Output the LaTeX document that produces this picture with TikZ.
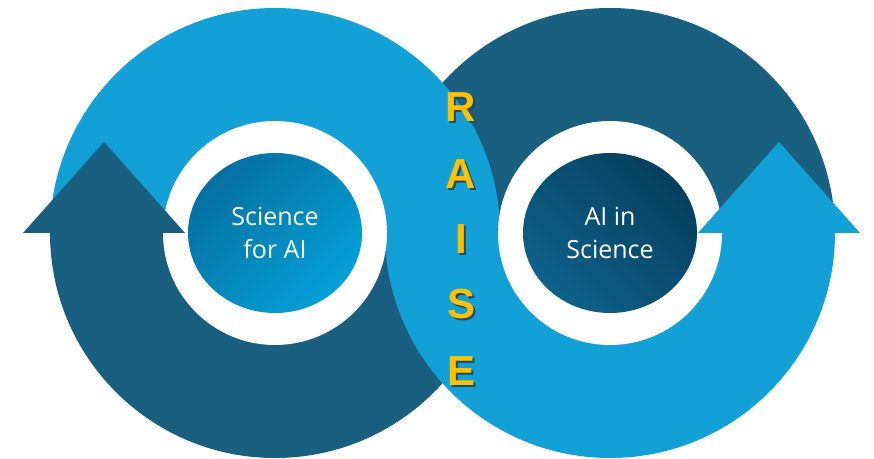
\documentclass[tikz,border=0pt]{standalone}
\usepackage{fontspec}
\usetikzlibrary{calc}
\setmainfont{Open Sans}
\newfontfamily\raisefont{Liberation Sans}
\definecolor{lightb}{HTML}{12A0D7}
\definecolor{darkb}{HTML}{185F80}
\definecolor{lgA}{HTML}{0570A0}
\definecolor{lgB}{HTML}{04A0D8}
\definecolor{rgA}{HTML}{063F5E}
\definecolor{rgB}{HTML}{0E6189}
\definecolor{raiseY}{HTML}{FFC000}
\definecolor{shad}{HTML}{1D4C66}
\newcommand{\shadowed}[1]{\makebox[0pt][l]{\hspace{2pt}\raisebox{-2pt}{\textcolor{shad}{#1}}}#1}
\tikzset{
  inlabel/.style={text=white, font=\fontsize{25}{33}\selectfont, align=center},
  letter/.style={text=raiseY, font=\raisefont\bfseries\fontsize{42}{42}\selectfont, inner sep=0pt},
}
\begin{document}
\begin{tikzpicture}[x=1pt,y=1pt]
\useasboundingbox (0,0) rectangle (874,458);
\coordinate (L) at (275,225);
\coordinate (R) at (610,225);
% dark halves
\fill[darkb] ($(L)+(-225,0)$) arc[start angle=180,end angle=360,radius=225] -- cycle;
\fill[darkb] ($(R)+(225,0)$) arc[start angle=0,end angle=180,radius=225] -- cycle;
% light halves
\fill[lightb] ($(L)+(225,0)$) arc[start angle=0,end angle=180,radius=225] -- cycle;
\fill[lightb] ($(R)+(-225,0)$) arc[start angle=180,end angle=360,radius=225] -- cycle;
% holes
\fill[white] (L) circle[radius=112];
\fill[white] (R) circle[radius=112];
% arrowheads
\fill[darkb] (23,225) -- (185,225) -- (104,316) -- cycle;
\fill[lightb] (698,225) -- (860,225) -- (779,316) -- cycle;
% inner discs
\shade[top color=lgA, bottom color=lgB, shading angle=45] (L) ellipse[x radius=87, y radius=80];
\shade[top color=rgA, bottom color=rgB, shading angle=-45] (R) ellipse[x radius=87, y radius=80];
\node[inlabel] (sfa) at (L) {Science\\for AI};
\node[inlabel] (ais) at (R) {AI in\\Science};
% RAISE
\foreach \ch/\yy/\nm in {R/350/r, A/283/a, I/218/i, S/153/s, E/86/e}{
  \node[letter] (\nm) at (461,\yy) {\shadowed{\ch}};
}
\end{tikzpicture}
\end{document}
